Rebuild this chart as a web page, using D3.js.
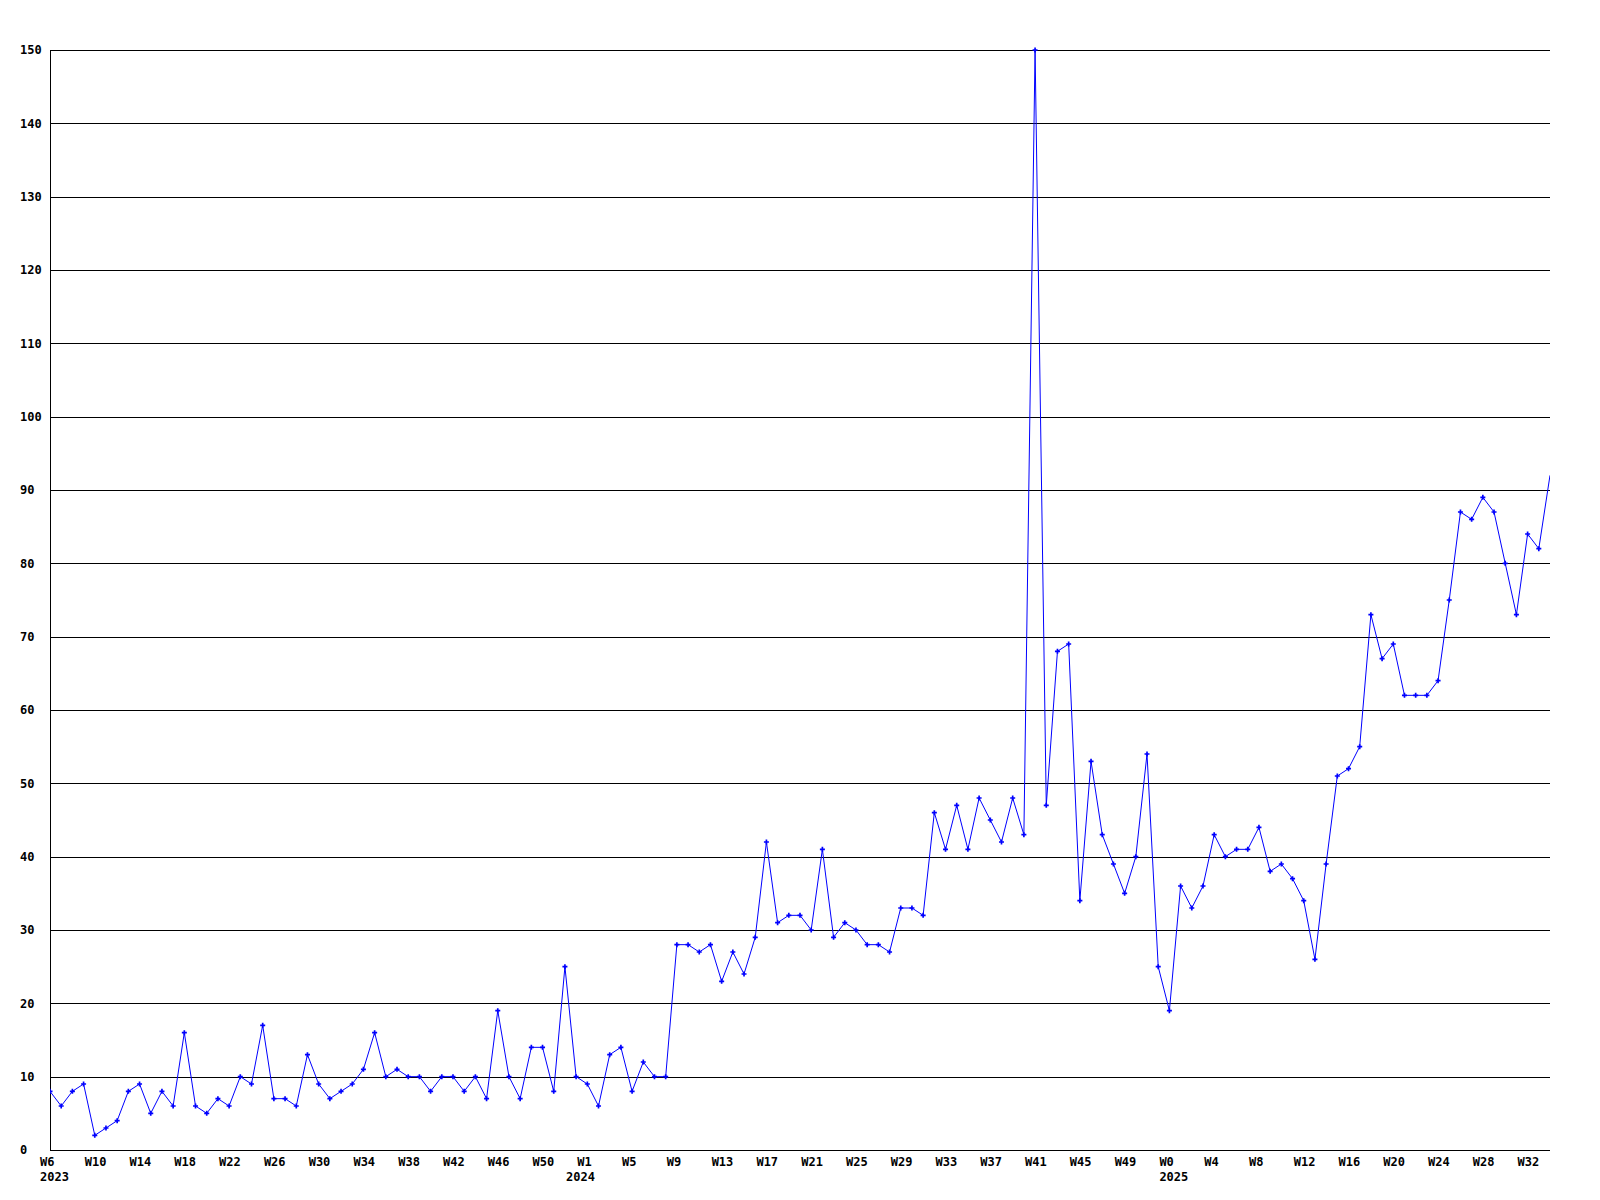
<!DOCTYPE html>
<html>
<head>
<meta charset="utf-8">
<script src="https://cdn.jsdelivr.net/npm/d3@7"></script>
<style>
  html, body { margin: 0; padding: 0; background: #ffffff; }
  svg text { font-family: "DejaVu Sans Mono", "Liberation Mono", monospace; font-weight: bold; font-size: 12px; fill: #000; }
</style>
</head>
<body>
<svg id="chart" width="1600" height="1200"></svg>
<script>
// Weekly values, index 0 = 2023 W6
const values = [
  8, 6, 8, 9, 2, 3, 4, 8, 9, 5,
  8, 6, 16, 6, 5, 7, 6, 10, 9, 17,
  7, 7, 6, 13, 9, 7, 8, 9, 11, 16,
  10, 11, 10, 10, 8, 10, 10, 8, 10, 7,
  19, 10, 7, 14, 14, 8, 25, 10, 9, 6,
  13, 14, 8, 12, 10, 10, 28, 28, 27, 28,
  23, 27, 24, 29, 42, 31, 32, 32, 30, 41,
  29, 31, 30, 28, 28, 27, 33, 33, 32, 46,
  41, 47, 41, 48, 45, 42, 48, 43, 150, 47,
  68, 69, 34, 53, 43, 39, 35, 40, 54, 25,
  19, 36, 33, 36, 43, 40, 41, 41, 44, 38,
  39, 37, 34, 26, 39, 51, 52, 55, 73, 67,
  69, 62, 62, 62, 64, 75, 87, 86, 89, 87,
  80, 73, 84, 82, 92
];

// Week tick labels (every 4th point)
const weekTickIndex = [0,4,8,12,16,20,24,28,32,36,40,44,48,52,56,60,64,68,72,76,80,84,88,92,96,100,104,108,112,116,120,124,128,132];
const weekTickLabels = ["W6","W10","W14","W18","W22","W26","W30","W34","W38","W42","W46","W50","W1","W5","W9","W13","W17","W21","W25","W29","W33","W37","W41","W45","W49","W0","W4","W8","W12","W16","W20","W24","W28","W32"];

// Year labels
const yearIndex = [0, 47, 100];
const yearLabels = ["2023", "2024", "2025"];

// Y axis ticks
const yTicks = [0,10,20,30,40,50,60,70,80,90,100,110,120,130,140,150];

(function () {
  const svg = d3.select("#chart");
  const pL = 50, pR = 1550, pT = 50, pB = 1150;

  const x = d3.scaleLinear().domain([0, values.length - 1]).range([pL, pR]);
  const y = d3.scaleLinear().domain([0, 150]).range([pB, pT]);

  // gridlines
  svg.append("g").selectAll("line").data(yTicks).join("line")
    .attr("x1", pL).attr("x2", pR)
    .attr("y1", d => Math.round(y(d)) + 0.5).attr("y2", d => Math.round(y(d)) + 0.5)
    .attr("stroke", "#000").attr("stroke-width", 1).attr("shape-rendering", "crispEdges");

  // left axis line
  svg.append("line")
    .attr("x1", pL + 0.5).attr("x2", pL + 0.5)
    .attr("y1", pT).attr("y2", pB)
    .attr("stroke", "#000").attr("stroke-width", 1).attr("shape-rendering", "crispEdges");

  // y labels
  svg.append("g").selectAll("text").data(yTicks).join("text")
    .attr("x", 20).attr("y", d => y(d)).attr("dy", "0.35em")
    .text(d => d);

  // x labels
  svg.append("g").selectAll("text").data(weekTickIndex).join("text")
    .attr("x", d => x(d) - 10).attr("y", 1166)
    .text((d, i) => weekTickLabels[i]);

  svg.append("g").selectAll("text").data(yearIndex).join("text")
    .attr("x", d => x(d) - 10).attr("y", 1181)
    .text((d, i) => yearLabels[i]);

  // clip
  svg.append("clipPath").attr("id", "plotclip").append("rect")
    .attr("x", pL).attr("y", pT - 5).attr("width", pR - pL).attr("height", pB - pT + 10);

  const line = d3.line().x((d, i) => x(i)).y(d => y(d));
  const g = svg.append("g").attr("clip-path", "url(#plotclip)");
  g.append("path").datum(values)
    .attr("d", line).attr("fill", "none").attr("stroke", "#0000ff").attr("stroke-width", 1);

  const sym = d3.symbol().type(d3.symbolCross).size(14);
  g.append("g").selectAll("path").data(values.slice(0, values.length - 1)).join("path")
    .attr("transform", (d, i) => `translate(${x(i)},${y(d)})`)
    .attr("d", sym).attr("fill", "#0000ff");
})();
</script>
</body>
</html>
